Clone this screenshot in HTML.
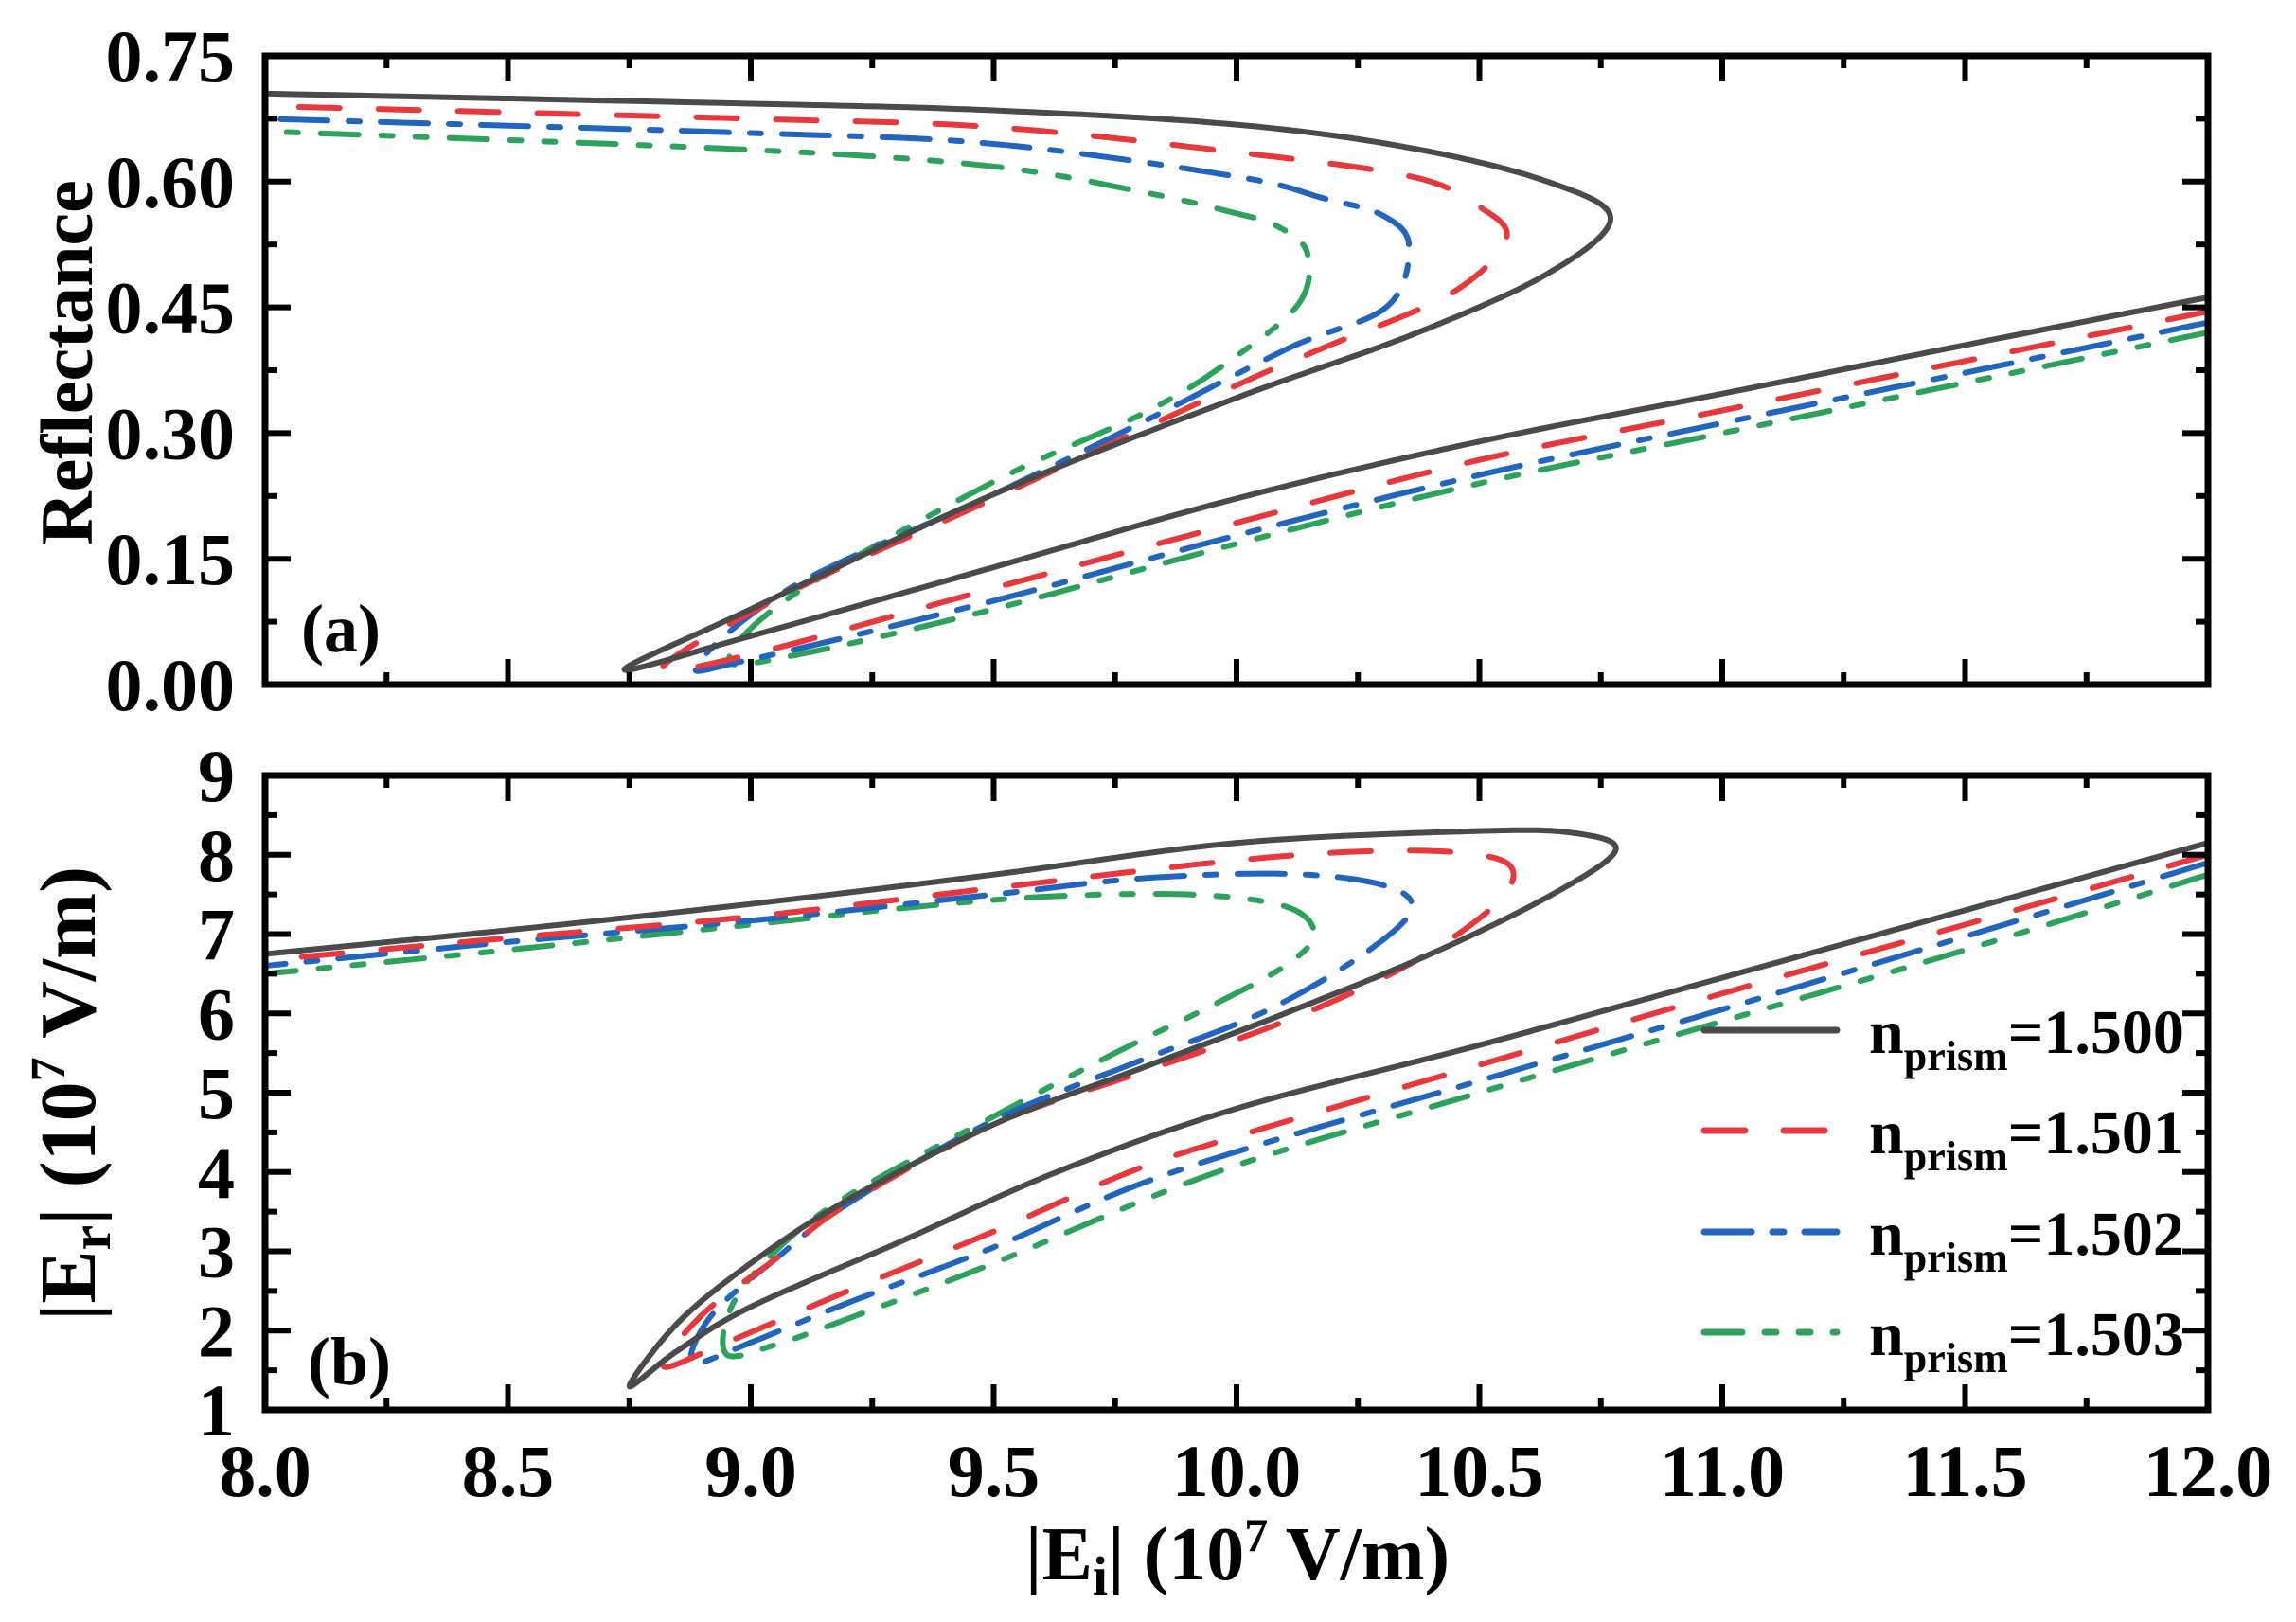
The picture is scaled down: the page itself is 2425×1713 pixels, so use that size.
<!DOCTYPE html>
<html><head><meta charset="utf-8"><style>
html,body{margin:0;padding:0;background:#fff;}
svg{display:block;font-family:"Liberation Serif",serif;font-weight:bold;}
</style></head><body>
<svg id="s" width="2425" height="1713" viewBox="0 0 2425 1713" xmlns="http://www.w3.org/2000/svg">
<rect width="2425" height="1713" fill="#fff"/>
<g id="curves"></g>
<g id="axes"></g>
<g font-size="78" text-anchor="end" id="ylabs"></g>
<text x="318" y="688" font-size="72">(a)</text>
<text x="325" y="1462" font-size="72">(b)</text>
<text transform="translate(97,383) rotate(-90)" font-size="78" text-anchor="middle">Reflectance</text>
<text transform="translate(100,1155) rotate(-90)" font-size="84" text-anchor="middle">|E<tspan font-size="60" dy="16">r</tspan><tspan dy="-16">| (10</tspan><tspan font-size="52" dy="-32">7</tspan><tspan dy="32"> V/m)</tspan></text>
<text x="1307" y="1668" font-size="80" text-anchor="middle">|E<tspan font-size="58" dy="16">i</tspan><tspan dy="-16">| (10</tspan><tspan font-size="50" dy="-30">7</tspan><tspan dy="30"> V/m)</tspan></text>
<g id="legend" font-size="66"></g>
</svg>
<script>
var L=280,R=2332,T1=59,B1=723,T2=819,B2=1489;
function X(e){return L+(e-8)/4*(R-L);}
function Ya(r){return B1-r/0.75*(B1-T1);}
function Yb(v){return B2-(v-1)/8*(B2-T2);}
var S=[
{c:'#4a4a4a',d:'none',low:[[8.75,1.3],[8.85,1.75],[9.0,2.3],[9.3,3.1],[9.63,4.0],[10.0,4.8],[10.5,5.6],[11,6.45],[11.5,7.3],[12,8.15]],
 up:[[8.75,1.3],[8.85,2.1],[9.0,2.85],[9.2,3.65],[9.5,4.6],[9.8,5.3],[10.1,6.0],[10.4,6.75],[10.65,7.5],[10.78,8.05],[10.7,8.27],[10.5,8.3],[10.0,8.15],[9.5,7.75],[9.0,7.38],[8.5,7.05],[8.0,6.75]],
 alow:[[8.74,0.018],[9.0,0.058],[9.5,0.14],[10.0,0.222],[10.5,0.29],[11.0,0.347],[11.5,0.405],[12,0.462]],
 aup:[[8.74,0.018],[9.0,0.09],[9.5,0.227],[10.0,0.342],[10.36,0.417],[10.64,0.49],[10.77,0.556],[10.64,0.60],[10.36,0.64],[10.0,0.668],[9.5,0.685],[9.0,0.693],[8.0,0.705]]},
{c:'#e8383b',d:'43 41',low:[[8.82,1.55],[8.95,1.85],[9.2,2.5],[9.5,3.25],[9.78,4.0],[10.0,4.45],[10.5,5.35],[11,6.25],[11.5,7.12],[12,8.0]],
 up:[[8.82,1.55],[8.9,2.2],[9.05,2.9],[9.2,3.6],[9.5,4.6],[9.8,5.25],[10.1,5.9],[10.35,6.6],[10.52,7.3],[10.57,7.78],[10.5,8.0],[10.3,8.05],[10.0,7.93],[9.5,7.58],[9.0,7.22],[8.5,6.95],[8.0,6.67]],
 alow:[[8.82,0.022],[9.0,0.036],[9.5,0.115],[10.0,0.193],[10.5,0.268],[11.0,0.327],[11.5,0.386],[12,0.445]],
 aup:[[8.82,0.022],[9.09,0.113],[9.5,0.222],[10.0,0.357],[10.18,0.402],[10.44,0.466],[10.555,0.531],[10.5,0.57],[10.36,0.606],[10.0,0.635],[9.5,0.665],[9.0,0.675],[8.0,0.69]]},
{c:'#2066c0',d:'50 22 12 22',low:[[8.88,1.6],[9.0,1.85],[9.2,2.35],[9.5,3.05],[9.87,4.0],[10.5,5.15],[11,6.05],[11.5,6.97],[12,7.9]],
 up:[[8.88,1.6],[8.92,2.2],[9.05,2.9],[9.2,3.6],[9.5,4.65],[9.8,5.4],[10.05,6.0],[10.25,6.7],[10.36,7.3],[10.3,7.62],[10.1,7.76],[9.8,7.7],[9.5,7.5],[9.0,7.17],[8.5,6.9],[8.0,6.6]],
 alow:[[8.89,0.024],[9.0,0.03],[9.5,0.1],[10.0,0.178],[10.5,0.25],[11.0,0.312],[11.5,0.372],[12,0.432]],
 aup:[[8.89,0.024],[9.09,0.118],[9.5,0.227],[9.82,0.317],[10.11,0.402],[10.31,0.451],[10.355,0.524],[10.3,0.56],[10.18,0.58],[10.0,0.606],[9.5,0.645],[9.0,0.658],[8.0,0.675]]},
{c:'#2ba35a',d:'40 24 12 24 12 24',low:[[8.95,1.7],[9.05,1.82],[9.2,2.15],[9.5,2.85],[9.96,4.0],[10.5,5.0],[11,5.9],[11.5,6.8],[12,7.75]],
 up:[[8.95,1.7],[8.96,2.3],[9.05,3.0],[9.2,3.7],[9.5,4.7],[9.75,5.5],[9.95,6.1],[10.1,6.6],[10.16,7.0],[10.1,7.35],[9.9,7.5],[9.6,7.47],[9.3,7.32],[9.0,7.12],[8.5,6.8],[8.0,6.5]],
 alow:[[8.955,0.03],[9.09,0.035],[9.5,0.09],[10.0,0.168],[10.5,0.24],[11.0,0.3],[11.5,0.36],[12,0.42]],
 aup:[[8.955,0.03],[9.09,0.108],[9.5,0.242],[9.82,0.327],[10.0,0.392],[10.13,0.456],[10.145,0.516],[10.08,0.548],[10.0,0.562],[9.82,0.586],[9.5,0.618],[9.0,0.638],[8.0,0.66]]}
];
function spline(p){var o=[];for(var i=0;i<p.length-1;i++){var p0=p[Math.max(i-1,0)],p1=p[i],p2=p[i+1],p3=p[Math.min(i+2,p.length-1)];
for(var k=0;k<20;k++){var t=k/20,t2=t*t,t3=t2*t;var f=function(a,b,c,d){return 0.5*(2*b+(-a+c)*t+(2*a-5*b+4*c-d)*t2+(-a+3*b-3*c+d)*t3);};
o.push([f(p0[0],p1[0],p2[0],p3[0]),f(p0[1],p1[1],p2[1],p3[1])]);}}o.push(p[p.length-1]);return o;}
var g=document.getElementById('curves'),h='';
h+='<clipPath id="ca"><rect x="'+L+'" y="'+T1+'" width="'+(R-L)+'" height="'+(B1-T1)+'"/></clipPath>';
h+='<clipPath id="cb"><rect x="'+L+'" y="'+T2+'" width="'+(R-L)+'" height="'+(B2-T2)+'"/></clipPath>';
for(var si=S.length-1;si>=0;si--){var s=S[si];
var pb=spline(s.low.slice().reverse().concat(s.up.slice(1)));
var pa=spline(s.alow.slice().reverse().concat(s.aup.slice(1)));
var da='',db='';
pa.forEach(function(q,i){da+=(i?'L':'M')+X(q[0]).toFixed(1)+','+Ya(q[1]).toFixed(1);});
pb.forEach(function(q,i){db+=(i?'L':'M')+X(q[0]).toFixed(1)+','+Yb(q[1]).toFixed(1);});
var st=' fill="none" stroke="'+s.c+'" stroke-width="6" stroke-linecap="round" stroke-linejoin="round"'+(s.d!='none'?' stroke-dasharray="'+s.d+'"':'');
h+='<path clip-path="url(#ca)" d="'+da+'"'+st+'/><path clip-path="url(#cb)" d="'+db+'"'+st+'/>';}
g.innerHTML=h;
var a='',yl='';
[[T1,B1],[T2,B2]].forEach(function(b){a+='<rect x="'+L+'" y="'+b[0]+'" width="'+(R-L)+'" height="'+(b[1]-b[0])+'" fill="none" stroke="#000" stroke-width="7"/>';
for(var i=0;i<=16;i++){var x=L+i*(R-L)/16,len=i%2?13:27;a+='<line x1="'+x+'" x2="'+x+'" y1="'+b[0]+'" y2="'+(b[0]+len)+'" stroke="#000" stroke-width="6"/><line x1="'+x+'" x2="'+x+'" y1="'+b[1]+'" y2="'+(b[1]-len)+'" stroke="#000" stroke-width="6"/>';}});
for(var i=0;i<=10;i++){var y=B1-i*(B1-T1)/10,len=i%2?13:27;a+='<line x1="'+L+'" x2="'+(L+len)+'" y1="'+y+'" y2="'+y+'" stroke="#000" stroke-width="6"/><line x1="'+R+'" x2="'+(R-len)+'" y1="'+y+'" y2="'+y+'" stroke="#000" stroke-width="6"/>';
if(i%2==0)yl+='<text x="248" y="'+(y+27)+'">'+(i*0.075).toFixed(2)+'</text>';}
for(var i=0;i<=16;i++){var y=B2-i*(B2-T2)/16,len=i%2?13:27;a+='<line x1="'+L+'" x2="'+(L+len)+'" y1="'+y+'" y2="'+y+'" stroke="#000" stroke-width="6"/><line x1="'+R+'" x2="'+(R-len)+'" y1="'+y+'" y2="'+y+'" stroke="#000" stroke-width="6"/>';
if(i%2==0)yl+='<text x="248" y="'+(y+27)+'">'+(1+i/2)+'</text>';}
for(var i=0;i<=8;i++){yl+='<text text-anchor="middle" x="'+(X(8+i*0.5))+'" y="1580">'+(8+i*0.5).toFixed(1)+'</text>';}
document.getElementById('axes').innerHTML=a;document.getElementById('ylabs').innerHTML=yl;
var lg='',ys=[1088,1194,1301,1407],nm=['1.500','1.501','1.502','1.503'];
S.forEach(function(s,i){lg+='<line x1="1800" x2="1940" y1="'+ys[i]+'" y2="'+ys[i]+'" stroke="'+s.c+'" stroke-width="7" stroke-linecap="round"'+(s.d!='none'?' stroke-dasharray="'+s.d+'"':'')+'/>';
lg+='<text x="1974" y="'+(ys[i]+24)+'">n<tspan font-size="44" dy="18">prism</tspan><tspan dy="-18">='+nm[i]+'</tspan></text>';});
document.getElementById('legend').innerHTML=lg;
</script>
</body></html>
